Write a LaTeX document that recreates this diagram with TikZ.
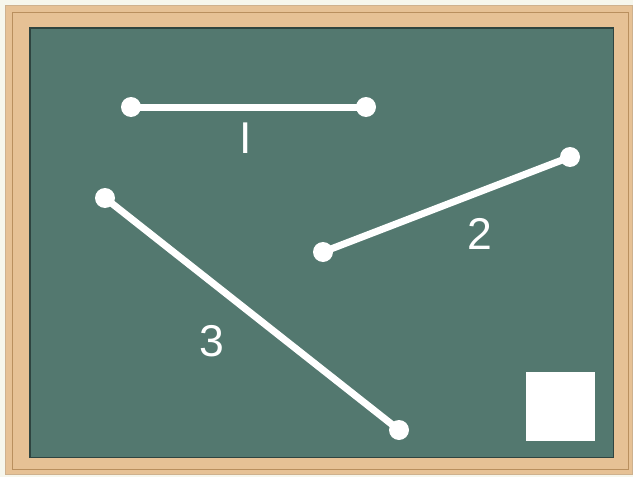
\documentclass[tikz,border=0pt]{standalone}
\usepackage{fontspec}
\setmainfont{Liberation Sans}
\usepackage{tikz}
\definecolor{paper}{HTML}{F6F6EC}
\definecolor{wood}{HTML}{E6C195}
\definecolor{woodline}{HTML}{B98F5E}
\definecolor{board}{HTML}{53786F}
\definecolor{boardedge}{HTML}{2F4440}

\begin{document}
\begin{tikzpicture}[
    x=0.03cm, y=-0.03cm,
    dot/.style={
        circle,
        fill=white,
        inner sep=0pt,
        minimum size=0.6cm
    },
    seg/.style={white, line width=0.21cm},
    lbl/.style={
        text=white,
        font=\fontsize{38}{40}\selectfont,
        inner sep=0pt
    },
    square/.style={fill=white, draw=none}
]

% Frame and board
\fill[paper] (0,0) rectangle (633,477);
\useasboundingbox (0,0) rectangle (633,477);
\fill[wood] (5,5) rectangle (633,474);
\draw[woodline, line width=0.6pt] (12,12) rectangle (628,469);
\draw[woodline!70, line width=0.4pt] (5,5) rectangle (632,474);
\fill[boardedge] (29,27) rectangle (614,458);
\fill[board] (31,29) rectangle (613,457);

% Segment 1
\node[dot] (a1) at (131,107) {};
\node[dot] (b1) at (366,107) {};
\draw[seg] (a1.center) -- (b1.center);
\node[lbl] (l1) at (246,138) {I};

% Segment 2
\node[dot] (a2) at (323,252) {};
\node[dot] (b2) at (570,157) {};
\draw[seg] (a2.center) -- (b2.center);
\node[lbl] (l2) at (480,234) {2};

% Segment 3
\node[dot] (a3) at (105,198) {};
\node[dot] (b3) at (399,430) {};
\draw[seg] (a3.center) -- (b3.center);
\node[lbl] (l3) at (212,341) {3};

% Square
\fill[square] (526,372) rectangle (595,441);

\end{tikzpicture}
\end{document}
